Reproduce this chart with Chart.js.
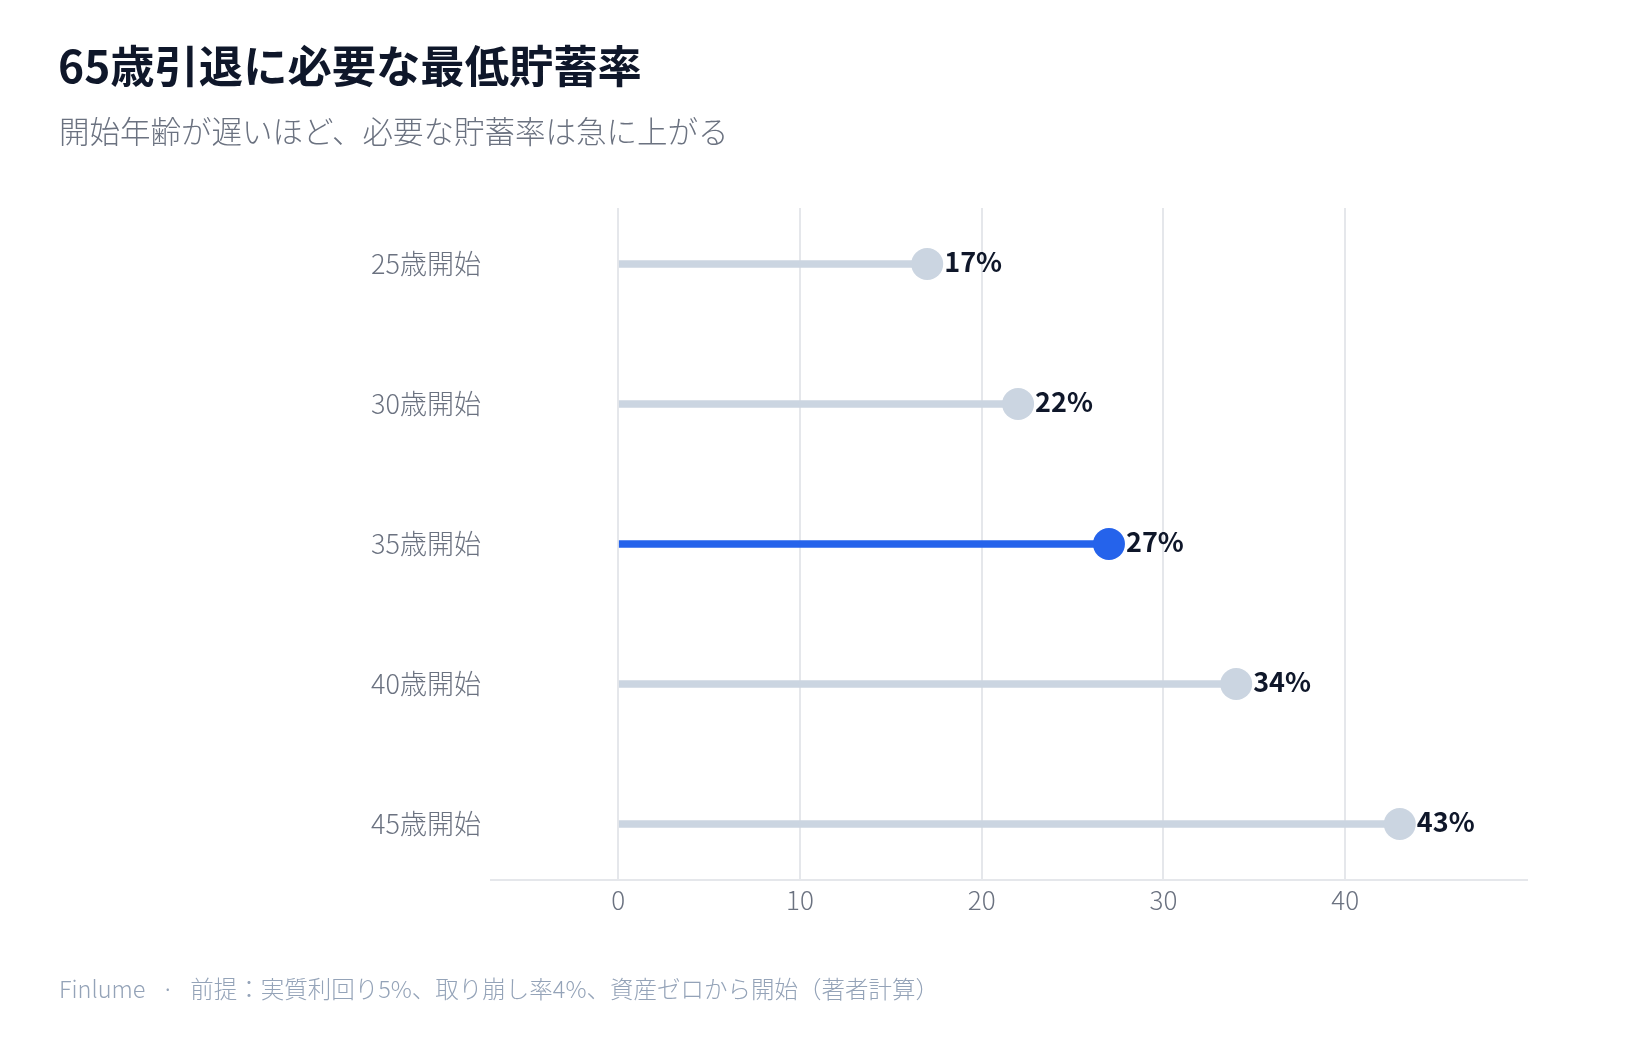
<!DOCTYPE html>
<html lang="ja">
<head>
    <meta charset="UTF-8">
    <title>65歳引退に必要な最低貯蓄率</title>
    <script src="https://cdn.jsdelivr.net/npm/chart.js"></script>
    <style>
        body {
            margin: 0;
            background: #ffffff;
            font-family: "Noto Sans CJK JP", "Noto Sans", sans-serif;
        }

        .page {
            position: relative;
            width: 1639px;
            height: 1040px;
            overflow: hidden;
        }

        h1 {
            position: absolute;
            left: 58px;
            top: 42px;
            margin: 0;
            font-size: 44.3px;
            line-height: 1;
            font-weight: 700;
            color: #0f172a;
        }

        .subtitle {
            position: absolute;
            left: 59px;
            top: 115px;
            margin: 0;
            font-size: 30.5px;
            line-height: 1;
            font-weight: 300;
            color: #6b7280;
        }

        .chart-box {
            position: absolute;
            left: 0;
            top: 0;
            width: 1639px;
            height: 1040px;
        }

        .footer {
            position: absolute;
            left: 59px;
            top: 977px;
            font-size: 23.5px;
            line-height: 1;
            font-weight: 300;
            color: #94a3b8;
            white-space: nowrap;
        }

        .footer .sep {
            margin: 0 16px;
        }
    </style>
</head>
<body>
    <div class="page">
        <div class="chart-box"><canvas id="myChart"></canvas></div>
        <h1>65歳引退に必要な最低貯蓄率</h1>
        <p class="subtitle">開始年齢が遅いほど、必要な貯蓄率は急に上がる</p>
        <div class="footer">Finlume<span class="sep">·</span>前提：実質利回り5%、取り崩し率4%、資産ゼロから開始（著者計算）</div>
    </div>

    <script>
        // data
        const startLabels = ['25歳開始', '30歳開始', '35歳開始', '40歳開始', '45歳開始'];
        const savingsRate = [17, 22, 27, 34, 43];
        const xTicks = [0, 10, 20, 30, 40];
        const highlight = '35歳開始';

        const grey = '#cbd5e1';
        const blue = '#2563eb';
        const colors = startLabels.map(l => l === highlight ? blue : grey);
        const points = savingsRate.map((v, i) => ({ x: v, y: i }));

        Chart.defaults.font.family = '"Noto Sans CJK JP", "Noto Sans", sans-serif';

        // % labels right of each dot
        const valueLabels = {
            id: 'valueLabels',
            afterDatasetsDraw(chart) {
                const ctx = chart.ctx;
                const meta = chart.getDatasetMeta(1);
                ctx.save();
                ctx.font = 'bold 27px "Noto Sans CJK JP", sans-serif';
                ctx.fillStyle = '#0f172a';
                ctx.textBaseline = 'middle';
                meta.data.forEach((pt, i) => {
                    ctx.fillText(savingsRate[i] + '%', pt.x + 17, pt.y - 2);
                });
                ctx.restore();
            }
        };

        const ctx = document.getElementById('myChart').getContext('2d');

        new Chart(ctx, {
            type: 'bar',
            data: {
                datasets: [
                    {
                        type: 'bar',
                        indexAxis: 'y',
                        data: points,
                        backgroundColor: colors,
                        borderWidth: 0,
                        barThickness: 7,
                        order: 2
                    },
                    {
                        type: 'scatter',
                        data: points,
                        pointRadius: 16,
                        pointHoverRadius: 16,
                        pointBackgroundColor: colors,
                        pointBorderWidth: 0,
                        order: 1
                    }
                ]
            },
            options: {
                responsive: true,
                maintainAspectRatio: false,
                animation: false,
                events: [],
                layout: { padding: { top: 208, right: 112, left: 0, bottom: 0 } },
                plugins: {
                    legend: { display: false },
                    tooltip: { enabled: false }
                },
                scales: {
                    x: {
                        type: 'linear',
                        min: -7,
                        max: 50,
                        offset: false,
                        afterBuildTicks: axis => { axis.ticks = xTicks.map(v => ({ value: v })); },
                        afterFit: scale => { scale.height = 160; },
                        grid: { color: '#e5e7eb', lineWidth: 2, drawTicks: false, offset: false },
                        border: { display: true, color: '#e5e7eb', width: 2 },
                        ticks: { color: '#6b7280', font: { size: 26, weight: 300 }, padding: 5 }
                    },
                    y: {
                        type: 'linear',
                        reverse: true,
                        min: -0.4,
                        max: 4.4,
                        offset: false,
                        afterBuildTicks: axis => { axis.ticks = startLabels.map((l, i) => ({ value: i })); },
                        afterFit: scale => { scale.width = 491; },
                        grid: { display: false, drawTicks: false, offset: false },
                        border: { display: false },
                        ticks: {
                            color: '#6b7280',
                            font: { size: 27, weight: 300 },
                            padding: 10,
                            callback: v => startLabels[v]
                        }
                    }
                }
            },
            plugins: [valueLabels]
        });
    </script>
</body>
</html>
